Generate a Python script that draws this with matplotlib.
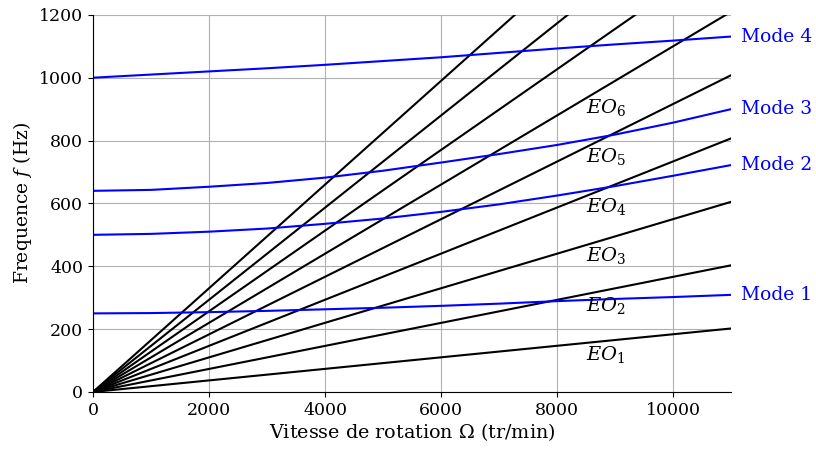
import matplotlib
matplotlib.use('Agg')
import matplotlib.pyplot as plt

# vitesse de rotation (tr/min)
omega = [0, 1000, 2000, 3000, 4000, 5000, 6000, 7000, 8000, 9000, 10000, 11000]

mode1 = [250, 251, 254, 258, 263, 268, 274, 281, 289, 296, 302, 309]
mode2 = [500, 503, 510, 520, 535, 552, 573, 597, 625, 655, 688, 722]
mode3 = [640, 643, 653, 665, 682, 704, 730, 757, 786, 819, 857, 900]
mode4 = [1000, 1010, 1020, 1030, 1041, 1053, 1065, 1079, 1093, 1106, 1118, 1131]
modes = [mode1, mode2, mode3, mode4]
mode_labels = ['Mode 1', 'Mode 2', 'Mode 3', 'Mode 4']

# ordres moteurs : frequence a 11000 tr/min
eo_orders = [1, 2, 3, 4, 5, 6, 7, 8, 9]
eo_end = [202, 403, 605, 807, 1008, 1210, 1412, 1613, 1815]
eo_labelled = [1, 2, 3, 4, 5, 6]

plt.rcParams['font.family'] = 'DejaVu Serif'
plt.rcParams['mathtext.fontset'] = 'dejavuserif'
plt.rcParams['font.size'] = 12.5

fig = plt.figure(figsize=(8.16, 4.5), dpi=100)
ax = fig.add_axes([0.114, 0.129, 0.782, 0.838])

# droites EO
for k, fe in zip(eo_orders, eo_end):
    ax.plot([omega[0], omega[-1]], [0, fe], color='black', linewidth=1.5)

for k in eo_labelled:
    fe = eo_end[k - 1]
    ax.text(8500, fe * 8600 / omega[-1] - 40, r'$EO_{%d}$' % k,
            ha='left', va='center', fontsize=14)

# modes propres
for f, lab in zip(modes, mode_labels):
    ax.plot(omega, f, color='#0000ff', linewidth=1.5)
    ax.text(omega[-1] * 1.016, f[-1], lab, color='#0000ff',
            ha='left', va='center', fontsize=13.5, clip_on=False)

ax.set_xlim(0, 11000)
ax.set_ylim(0, 1200)
ax.set_xticks([0, 2000, 4000, 6000, 8000, 10000])
ax.set_yticks([0, 200, 400, 600, 800, 1000, 1200])
ax.grid(True, color='#b0b0b0', linewidth=0.8)
ax.set_axisbelow(True)
ax.spines['top'].set_visible(False)
ax.spines['right'].set_visible(False)

ax.set_xlabel(r'Vitesse de rotation $\Omega$ (tr/min)', fontsize=13.8, labelpad=2)
ax.set_ylabel(r'Frequence $f$ (Hz)', fontsize=13.5, labelpad=4)

fig.savefig('out.png', dpi=100)
